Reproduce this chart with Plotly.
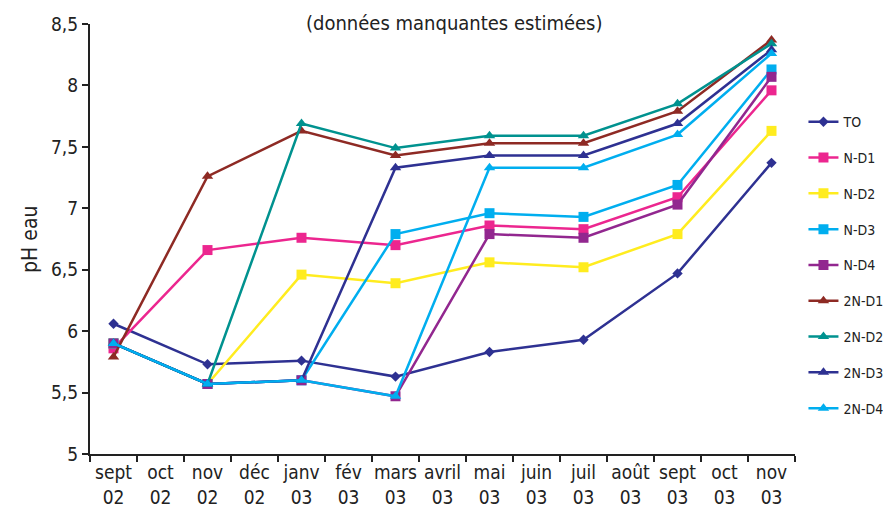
import plotly.graph_objects as go

months = ["sept<br>02", "oct<br>02", "nov<br>02", "déc<br>02", "janv<br>03", "fév<br>03",
          "mars<br>03", "avril<br>03", "mai<br>03", "juin<br>03", "juil<br>03", "août<br>03",
          "sept<br>03", "oct<br>03", "nov<br>03"]
sample_months = ["sept<br>02", "nov<br>02", "janv<br>03", "mars<br>03", "mai<br>03",
                 "juil<br>03", "sept<br>03", "nov<br>03"]

TO = [6.06, 5.73, 5.76, 5.63, 5.83, 5.93, 6.47, 7.37]
N_D1 = [5.86, 6.66, 6.76, 6.70, 6.86, 6.83, 7.09, 7.96]
N_D2 = [5.90, 5.57, 6.46, 6.39, 6.56, 6.52, 6.79, 7.63]
N_D3 = [5.90, 5.57, 5.60, 6.79, 6.96, 6.93, 7.19, 8.13]
N_D4 = [5.90, 5.57, 5.60, 5.47, 6.79, 6.76, 7.03, 8.07]
N2_D1 = [5.79, 7.26, 7.63, 7.43, 7.53, 7.53, 7.79, 8.37]
N2_D2 = [5.90, 5.57, 7.69, 7.49, 7.59, 7.59, 7.85, 8.34]
N2_D3 = [5.90, 5.57, 5.60, 7.33, 7.43, 7.43, 7.69, 8.29]
N2_D4 = [5.90, 5.57, 5.60, 5.47, 7.33, 7.33, 7.60, 8.26]

series = [
    ("TO", TO, "#2E3192", "diamond", 8),
    ("N-D1", N_D1, "#EC268F", "square", 10),
    ("N-D2", N_D2, "#FFEC1F", "square", 10),
    ("N-D3", N_D3, "#00AEEF", "square", 10),
    ("N-D4", N_D4, "#92278F", "square", 10),
    ("2N-D1", N2_D1, "#8E2A24", "triangle-up", 10),
    ("2N-D2", N2_D2, "#00928F", "triangle-up", 10),
    ("2N-D3", N2_D3, "#2E3192", "triangle-up", 10),
    ("2N-D4", N2_D4, "#00AEEF", "triangle-up", 10),
]

FONT = "DejaVu Sans Condensed, Liberation Sans Narrow, sans-serif"

fig = go.Figure()
for name, vals, color, sym, sz in series:
    fig.add_trace(go.Scatter(
        x=sample_months, y=vals, name=name, mode="lines+markers",
        line=dict(color=color, width=2.5),
        marker=dict(symbol=sym, size=sz, color=color),
        legendgroup=name,
    ))

fig.update_layout(
    width=883, height=502,
    margin=dict(l=82, r=95.5, t=16, b=56, autoexpand=False),
    paper_bgcolor="white", plot_bgcolor="white",
    separators=", ",
    showlegend=True,
    legend=dict(x=1.012, y=0.809, xanchor="left", yanchor="top",
                font=dict(family=FONT, size=14, color="#222"),
                tracegroupgap=14.6, bgcolor="rgba(0,0,0,0)"),
    xaxis=dict(type="category", categoryorder="array", categoryarray=months,
               range=[-0.5, 14.5], tickson="boundaries", ticks="outside",
               ticklen=6, tickwidth=2, tickcolor="#222", automargin=False,
               showline=True, linecolor="#222", linewidth=2, showgrid=False,
               tickfont=dict(family=FONT, size=19, color="#222"), tickangle=0),
    yaxis=dict(range=[5, 8.5], tickvals=[5, 5.5, 6, 6.5, 7, 7.5, 8, 8.5],
               ticktext=["5", "5,5", "6", "6,5", "7", "7,5", "8", "8,5"],
               ticks="outside", ticklen=6, tickwidth=2, tickcolor="#222",
               showline=True, linecolor="#222", linewidth=2, showgrid=False,
               zeroline=False, automargin=False,
               tickfont=dict(family=FONT, size=19, color="#222")),
    annotations=[
        dict(text="(données manquantes estimées)", xref="paper", yref="paper",
             x=0.517, y=1.035, xanchor="center", yanchor="top", showarrow=False,
             font=dict(family=FONT, size=20, color="#222")),
        dict(text="pH eau", xref="paper", yref="paper", x=-0.085, y=0.498,
             xanchor="center", yanchor="middle", textangle=-90, showarrow=False,
             font=dict(family=FONT, size=21, color="#222")),
    ],
)

fig.write_html("out.html")
